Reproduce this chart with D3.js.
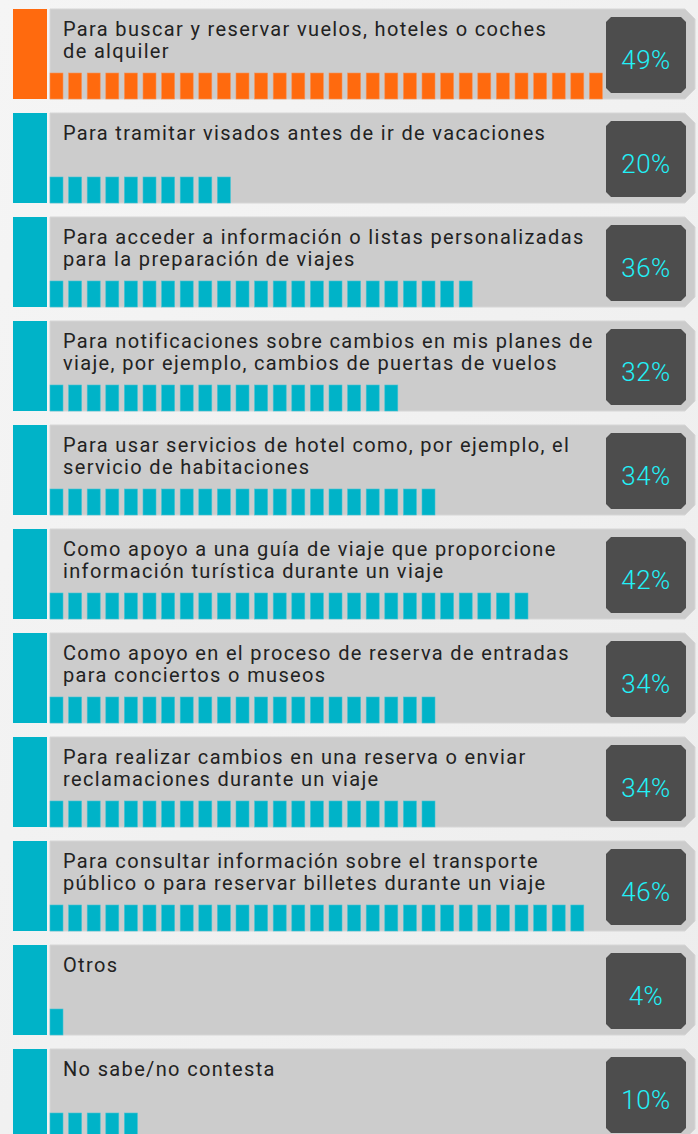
<!DOCTYPE html>
<html>
<head>
<meta charset="utf-8">
<script src="https://cdn.jsdelivr.net/npm/d3@7"></script>
<style>
body { margin: 0; background: #f2f2f2; }
svg { display: block; }
</style>
</head>
<body>
<svg id="chart" width="698" height="1134"></svg>
<script>
// textos de cada fila (ya partidos en lineas como en el original)
var labels = [
  ["Para buscar y reservar vuelos, hoteles o coches", "de alquiler"],
  ["Para tramitar visados antes de ir de vacaciones"],
  ["Para acceder a información o listas personalizadas", "para la preparación de viajes"],
  ["Para notificaciones sobre cambios en mis planes de", "viaje, por ejemplo, cambios de puertas de vuelos"],
  ["Para usar servicios de hotel como, por ejemplo, el", "servicio de habitaciones"],
  ["Como apoyo a una guía de viaje que proporcione", "información turística durante un viaje"],
  ["Como apoyo en el proceso de reserva de entradas", "para conciertos o museos"],
  ["Para realizar cambios en una reserva o enviar", "reclamaciones durante un viaje"],
  ["Para consultar información sobre el transporte", "público o para reservar billetes durante un viaje"],
  ["Otros"],
  ["No sabe/no contesta"]
];
var values = [49, 20, 36, 32, 34, 42, 34, 34, 46, 4, 10];
// numero de bloques que se ven en cada barra
var blocks = [30, 10, 23, 19, 21, 26, 21, 21, 29, 1, 5];
var colors = ["#ff6a0e", "#00b3c8", "#00b3c8", "#00b3c8", "#00b3c8", "#00b3c8",
              "#00b3c8", "#00b3c8", "#00b3c8", "#00b3c8", "#00b3c8"];

var svg = d3.select("#chart");

var defs = svg.append("defs");
var grad = defs.append("linearGradient").attr("id", "bg")
    .attr("x1", "0").attr("y1", "0").attr("x2", "1").attr("y2", "1");
grad.append("stop").attr("offset", "0").attr("stop-color", "#f5f5f5");
grad.append("stop").attr("offset", "1").attr("stop-color", "#ededed");
svg.append("rect").attr("width", 698).attr("height", 1134).attr("fill", "url(#bg)");

var y = d3.scaleBand()
    .domain(d3.range(values.length))
    .range([9, 1139])
    .paddingInner(14 / 104)
    .paddingOuter(0);

var h = y.bandwidth();

// un bloque cada ~18.6px
var bx = d3.scaleLinear().domain([0, 1]).range([50, 68.6]);

var rows = svg.selectAll(".row")
    .data(values)
    .enter().append("g")
    .attr("class", "row")
    .attr("transform", function(d, i) { return "translate(0," + y(i) + ")"; });

// franja de color a la izquierda
rows.append("rect")
    .attr("x", 13).attr("y", 0)
    .attr("width", 34).attr("height", h)
    .attr("fill", function(d, i) { return colors[i]; });

// panel gris con esquinas cortadas a la derecha
rows.append("path")
    .attr("d", "M50,0 L685,0 L695,10 L695," + (h - 10) + " L685," + h + " L50," + h + " Z")
    .attr("fill", "#cccccc")
    .attr("stroke", "#d6d6d6")
    .attr("stroke-width", 1);

// caja oscura del porcentaje
rows.append("path")
    .attr("d", "M611,8 L681,8 L686,13 L686,79 L681,84 L611,84 L606,79 L606,13 Z")
    .attr("fill", "#4d4d4d");

rows.append("text")
    .attr("x", 646).attr("y", 60)
    .attr("text-anchor", "middle")
    .style("font-family", "Roboto, 'Noto Sans', sans-serif")
    .style("font-weight", 300)
    .style("font-size", "26px")
    .style("letter-spacing", "0.5px")
    .attr("fill", "#22f0f7")
    .text(function(d) { return d + "%"; });

rows.append("text")
    .attr("x", 63).attr("y", 27)
    .style("font-family", "Roboto, 'Noto Sans', sans-serif")
    .style("font-size", "20px")
    .style("letter-spacing", "1.35px")
    .attr("fill", "#222222")
    .selectAll("tspan")
    .data(function(d, i) { return labels[i]; })
    .enter().append("tspan")
    .attr("x", 63)
    .attr("dy", function(d, j) { return j === 0 ? 0 : 22; })
    .text(function(d) { return d; });

// bloques de la barra
rows.each(function(d, i) {
  d3.select(this).selectAll(".blk")
    .data(d3.range(blocks[i]))
    .enter().append("rect")
    .attr("class", "blk")
    .attr("x", function(k) { return bx(k); })
    .attr("y", 64)
    .attr("width", 13)
    .attr("height", h - 64)
    .attr("fill", colors[i])
    .attr("stroke", i === 0 ? "#f5935a" : "#45c4d4")
    .attr("stroke-width", 0.6);
});
</script>
</body>
</html>
